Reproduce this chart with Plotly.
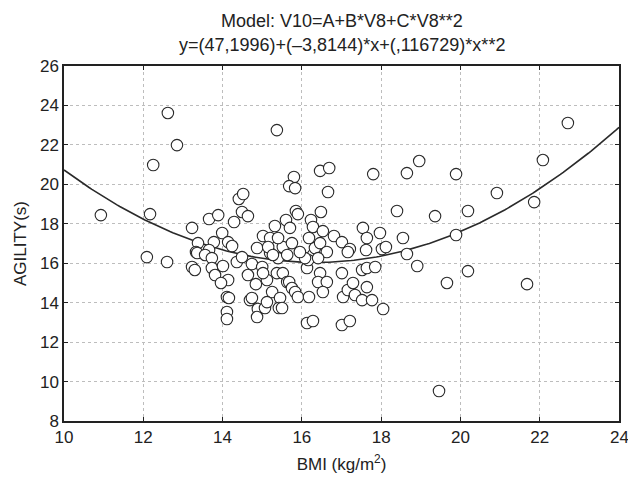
import plotly.graph_objects as go
import numpy as np

# BMI (kg/m^2) values
bmi = [10.93, 12.17, 12.25, 12.62, 12.85, 12.09, 12.60, 13.23, 13.66, 13.89,
       13.99, 13.78, 13.38, 14.14, 14.24, 13.66, 13.33, 14.29, 14.41, 14.52,
       14.49, 14.64, 13.23, 13.30, 13.36, 13.56, 13.73, 13.73, 13.81, 14.01,
       14.14, 13.96, 14.11, 14.16, 14.11, 14.11, 14.36, 14.49, 14.64, 14.69,
       14.74, 15.00, 14.87, 14.84, 15.12, 15.02, 14.74, 14.89, 14.87, 15.07,
       15.25, 15.12, 15.45, 15.42, 15.37, 15.20, 15.40, 15.52, 15.63, 15.52,
       15.02, 15.20, 15.40, 15.32, 15.60, 15.15, 15.37, 15.80, 15.68, 15.83,
       15.85, 15.90, 15.70, 15.75, 15.63, 15.68, 15.75, 15.83, 15.90, 16.18,
       15.50, 16.13, 16.28, 16.33, 16.46, 16.63, 16.16, 16.46, 16.41, 16.63,
       16.53, 16.13, 16.28, 17.01, 17.21, 16.46, 16.69, 16.66, 16.48, 16.23,
       16.28, 16.53, 16.18, 16.81, 17.01, 17.21, 17.54, 17.97, 17.64, 17.62,
       18.02, 18.12, 17.80, 17.01, 17.04, 17.16, 17.29, 17.34, 17.52, 17.64,
       17.77, 17.52, 17.64, 17.85, 17.16, 18.05, 18.40, 18.65, 18.96, 18.55,
       18.65, 18.91, 19.36, 19.66, 19.89, 19.89, 20.19, 20.19, 20.92, 21.68,
       21.86, 22.08, 22.71, 19.46, 15.27, 16.08, 15.95, 16.41]

# AGILITY (s) values
agility = [18.44, 18.49, 20.98, 23.62, 21.99, 16.31, 16.06, 17.79, 18.24, 18.44,
           17.53, 17.07, 17.02, 17.07, 16.87, 16.67, 16.57, 18.09, 19.26, 19.51,
           18.60, 18.39, 15.81, 15.66, 16.52, 16.42, 16.26, 15.76, 15.40, 15.86,
           15.15, 15.00, 14.29, 14.24, 13.53, 13.17, 16.06, 16.31, 15.40, 14.13,
           15.96, 15.81, 16.77, 14.94, 15.15, 15.50, 14.24, 13.68, 13.27, 13.73,
           14.54, 14.03, 14.24, 13.73, 15.50, 16.52, 16.26, 15.50, 15.05, 16.82,
           17.38, 17.28, 17.28, 17.89, 18.19, 16.82, 22.75, 20.37, 19.91, 19.81,
           18.65, 18.49, 17.79, 17.02, 16.42, 15.05, 14.74, 14.54, 14.29, 14.29,
           13.73, 15.76, 16.42, 16.77, 17.02, 16.57, 16.16, 15.50, 15.05, 15.05,
           14.54, 12.97, 13.07, 12.87, 13.07, 20.68, 20.83, 19.61, 18.60, 18.19,
           17.84, 17.63, 17.28, 17.38, 17.07, 16.72, 17.79, 17.53, 17.28, 16.67,
           16.72, 16.82, 20.52, 15.50, 14.29, 14.64, 15.00, 14.39, 14.13, 14.79,
           14.13, 15.66, 15.76, 15.81, 16.57, 13.68, 18.65, 20.57, 21.18, 17.28,
           16.47, 15.86, 18.39, 15.00, 20.52, 17.43, 18.65, 15.60, 19.56, 14.94,
           19.10, 21.23, 23.11, 9.52, 16.42, 16.26, 16.57, 16.26]

# Fitted model coefficients (from the title)
coef_a, coef_b, coef_c = 47.1996, -3.8144, 0.116729
x_ticks = [10, 12, 14, 16, 18, 20, 22, 24]
y_ticks = [8, 10, 12, 14, 16, 18, 20, 22, 24, 26]
title_lines = ["Model: V10=A+B*V8+C*V8**2",
               "y=(47,1996)+(\u20133,8144)*x+(,116729)*x**2"]

xf = np.linspace(10, 24, 200)
yf = coef_a + coef_b * xf + coef_c * xf ** 2

fig = go.Figure()
fig.add_trace(go.Scatter(x=xf, y=yf, mode="lines",
                         line=dict(color="#2a2a2a", width=1.6),
                         hoverinfo="skip", showlegend=False))
fig.add_trace(go.Scatter(x=bmi, y=agility, mode="markers",
                         marker=dict(symbol="circle", size=11.5, color="white",
                                     line=dict(color="#2a2a2a", width=1.1)),
                         showlegend=False))

font = "Liberation Sans, Arial, sans-serif"
tick_font = dict(family=font, size=17, color="#222222")
plot_h = 477 - 66 - 56
# the last x tick label sits at the very edge of the page, so it is drawn as an annotation
last_x = x_ticks[-1]
fig.update_layout(
    width=628, height=477,
    margin=dict(l=64, r=9, t=66, b=56),
    paper_bgcolor="white", plot_bgcolor="white",
    font=dict(family=font, size=17, color="#222222"),
    annotations=[
        dict(text=title_lines[0], x=0.5, y=1 + (66 - 21) / plot_h, xref="paper",
             yref="paper", yanchor="middle", showarrow=False,
             font=dict(family=font, size=18, color="#222222")),
        dict(text=title_lines[1], x=0.5, y=1 + (66 - 45) / plot_h, xref="paper",
             yref="paper", yanchor="middle", showarrow=False,
             font=dict(family=font, size=18, color="#222222")),
        dict(text=str(last_x), x=last_x, xref="x", y=0, yref="paper",
             yanchor="top", yshift=-5, showarrow=False, font=tick_font),
    ],
)

fig.update_xaxes(range=[10, 24], tickvals=x_ticks,
                 ticktext=[str(v) if v != last_x else "" for v in x_ticks],
                 showgrid=True, gridcolor="#bdbdbd", griddash="dot", gridwidth=1,
                 showline=True, linecolor="#222222", linewidth=1.5, mirror="ticks",
                 ticks="inside", ticklen=4, tickcolor="#222222", zeroline=False,
                 automargin=False,
                 title=dict(text="BMI (kg/m<sup>2</sup>)", standoff=12,
                            font=dict(family=font, size=17, color="#222222")),
                 tickfont=tick_font)
fig.update_yaxes(range=[8, 26], tickvals=y_ticks, ticktext=[str(v) for v in y_ticks],
                 showgrid=True, gridcolor="#bdbdbd", griddash="dot", gridwidth=1,
                 showline=True, linecolor="#222222", linewidth=1.5, mirror="ticks",
                 ticks="inside", ticklen=4, tickcolor="#222222", zeroline=False,
                 automargin=False,
                 title=dict(text="AGILITY(s)", standoff=9,
                            font=dict(family=font, size=17, color="#222222")),
                 tickfont=tick_font)

fig.write_html("out.html")
